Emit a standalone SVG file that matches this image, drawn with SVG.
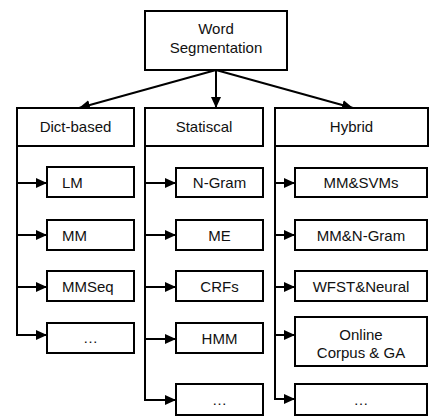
<svg xmlns="http://www.w3.org/2000/svg" width="443" height="419" viewBox="0 0 443 419">
<style>
.box{fill:#fff;stroke:#000;stroke-width:2}
.ln{fill:none;stroke:#000;stroke-width:2}
text{font-family:"Liberation Sans",Arial,sans-serif;font-size:15px;fill:#111;text-anchor:middle}
.l{text-anchor:start}
</style>
<defs>
<marker id="ah" markerUnits="userSpaceOnUse" markerWidth="12" markerHeight="12" viewBox="0 0 12 12" refX="11" refY="6" orient="auto">
<path d="M0,1 L11,6 L0,11 Z" fill="#000"/>
</marker>
</defs>
<rect width="443" height="419" fill="#fff"/>
<g id="connectors">
<path class="ln" d="M216,70 L79,108" marker-end="url(#ah)"/>
<path class="ln" d="M216,70 L216,108" marker-end="url(#ah)"/>
<path class="ln" d="M216,70 L353,108" marker-end="url(#ah)"/>
<path class="ln" d="M17,146 L17,335"/>
<path class="ln" d="M17,183 L47,183" marker-end="url(#ah)"/>
<path class="ln" d="M17,235 L47,235" marker-end="url(#ah)"/>
<path class="ln" d="M17,287 L47,287" marker-end="url(#ah)"/>
<path class="ln" d="M16,335 L47,335" marker-end="url(#ah)"/>
<path class="ln" d="M145,146 L145,400"/>
<path class="ln" d="M145,183 L176,183" marker-end="url(#ah)"/>
<path class="ln" d="M145,235 L176,235" marker-end="url(#ah)"/>
<path class="ln" d="M145,287 L176,287" marker-end="url(#ah)"/>
<path class="ln" d="M145,339 L176,339" marker-end="url(#ah)"/>
<path class="ln" d="M144,400 L176,400" marker-end="url(#ah)"/>
<path class="ln" d="M275,146 L275,399"/>
<path class="ln" d="M275,183 L295,183" marker-end="url(#ah)"/>
<path class="ln" d="M275,235 L295,235" marker-end="url(#ah)"/>
<path class="ln" d="M275,287 L295,287" marker-end="url(#ah)"/>
<path class="ln" d="M275,335 L295,335" marker-end="url(#ah)"/>
<path class="ln" d="M274,399 L295,399" marker-end="url(#ah)"/>
</g>
<g id="root"><rect class="box" x="145" y="11" width="142" height="59"/><text x="216" y="33.5">Word</text><text x="216" y="53">Segmentation</text></g>
<g id="dict"><rect class="box" x="17" y="108" width="117" height="38"/><text x="75.5" y="131.5">Dict-based</text></g>
<g id="stat"><rect class="box" x="145" y="108" width="118" height="38"/><text x="204" y="131.5">Statiscal</text></g>
<g id="hybrid"><rect class="box" x="275" y="108" width="153" height="38"/><text x="351.5" y="131.5">Hybrid</text></g>
<g id="lm"><rect class="box" x="47" y="167" width="87" height="30"/><text class="l" x="62" y="188">LM</text></g>
<g id="mm"><rect class="box" x="47" y="220" width="87" height="30"/><text class="l" x="62" y="240.5">MM</text></g>
<g id="mmseq"><rect class="box" x="47" y="271" width="87" height="30"/><text class="l" x="62" y="291.5">MMSeq</text></g>
<g id="dict-more"><rect class="box" x="47" y="323" width="87" height="30"/><text x="90.5" y="343">…</text></g>
<g id="ngram"><rect class="box" x="176" y="168" width="87" height="29"/><text x="219.5" y="188">N-Gram</text></g>
<g id="me"><rect class="box" x="176" y="220" width="87" height="30"/><text x="219.5" y="240.5">ME</text></g>
<g id="crfs"><rect class="box" x="176" y="271" width="87" height="30"/><text x="219.5" y="291.5">CRFs</text></g>
<g id="hmm"><rect class="box" x="176" y="323" width="87" height="30"/><text x="219.5" y="343.5">HMM</text></g>
<g id="stat-more"><rect class="box" x="176" y="384" width="87" height="31"/><text x="219.5" y="405">…</text></g>
<g id="mmsvms"><rect class="box" x="295" y="168" width="132" height="29"/><text x="361" y="188">MM&amp;SVMs</text></g>
<g id="mmngram"><rect class="box" x="295" y="220" width="132" height="30"/><text x="361" y="240.5">MM&amp;N-Gram</text></g>
<g id="wfst"><rect class="box" x="295" y="271" width="132" height="30"/><text x="361" y="291.5">WFST&amp;Neural</text></g>
<g id="online"><rect class="box" x="295" y="317" width="132" height="49"/><text x="361" y="340">Online</text><text x="361" y="358">Corpus &amp; GA</text></g>
<g id="hyb-more"><rect class="box" x="295" y="384" width="132" height="31"/><text x="361" y="405">…</text></g>
</svg>
